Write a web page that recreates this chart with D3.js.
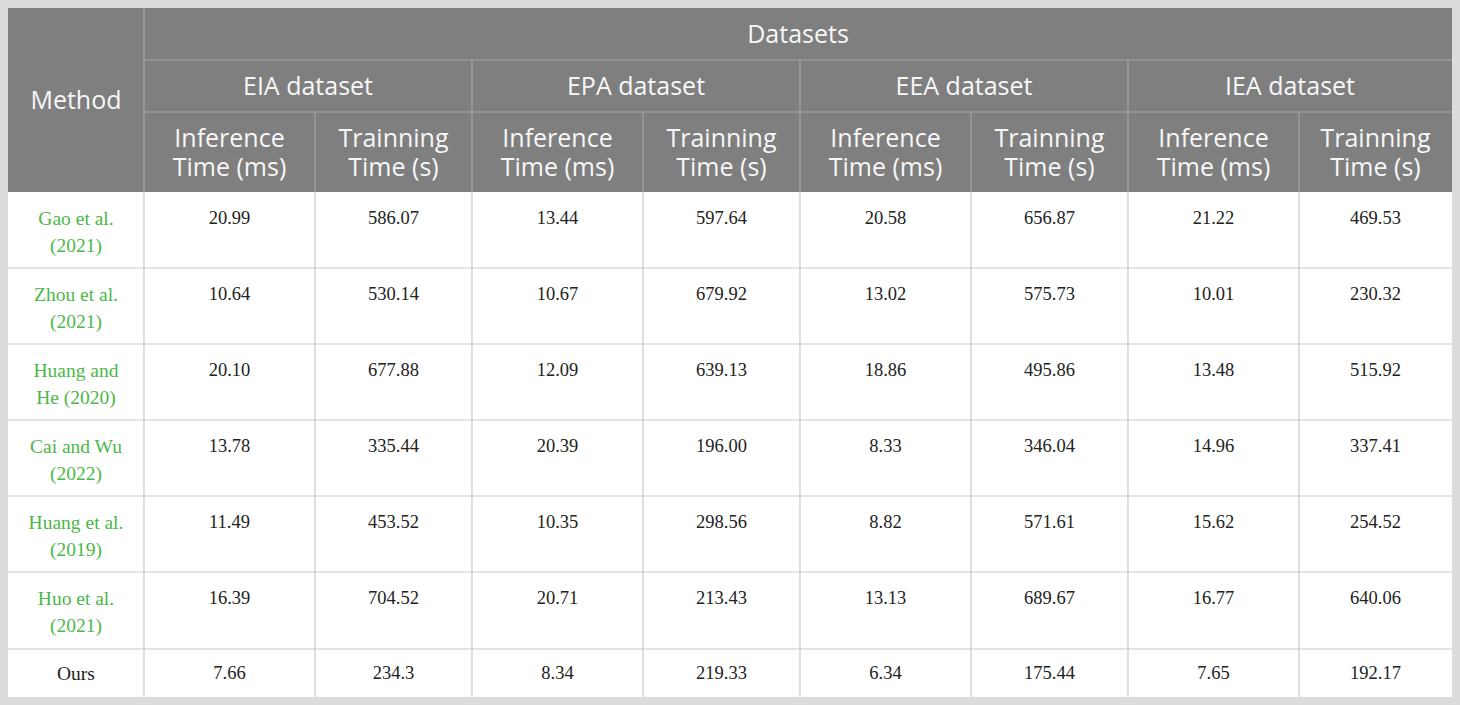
<!DOCTYPE html>
<html>
<head>
<meta charset="utf-8">
<script src="https://cdn.jsdelivr.net/npm/d3@7"></script>
<style>
  body { margin: 0; background: #dcdcdc; }
  svg { display: block; }
</style>
</head>
<body>
<div id="chart"></div>
<script>
// table content
const groupTitle = "Datasets";
const datasets = ["EIA dataset", "EPA dataset", "EEA dataset", "IEA dataset"];
const subHeaders = [["Inference", "Time (ms)"], ["Trainning", "Time (s)"]];
const methods = [
  ["Gao et al.", "(2021)"],
  ["Zhou et al.", "(2021)"],
  ["Huang and", "He (2020)"],
  ["Cai and Wu", "(2022)"],
  ["Huang et al.", "(2019)"],
  ["Huo et al.", "(2021)"],
  ["Ours"]
];
const inferenceTimes = [
  ["20.99", "13.44", "20.58", "21.22"],
  ["10.64", "10.67", "13.02", "10.01"],
  ["20.10", "12.09", "18.86", "13.48"],
  ["13.78", "20.39", "8.33", "14.96"],
  ["11.49", "10.35", "8.82", "15.62"],
  ["16.39", "20.71", "13.13", "16.77"],
  ["7.66", "8.34", "6.34", "7.65"]
];
const trainingTimes = [
  ["586.07", "597.64", "656.87", "469.53"],
  ["530.14", "679.92", "575.73", "230.32"],
  ["677.88", "639.13", "495.86", "515.92"],
  ["335.44", "196.00", "346.04", "337.41"],
  ["453.52", "298.56", "571.61", "254.52"],
  ["704.52", "213.43", "689.67", "640.06"],
  ["234.3", "219.33", "175.44", "192.17"]
];

document.addEventListener("DOMContentLoaded", () => {
  const width = 1460;
  const height = 705;
  const left = 8, top = 8;

  // column widths: method, then (inference, training) per dataset
  const colWidths = [136, 171, 157, 171, 157, 171, 157, 171, 153];
  const headRows = [52, 52, 80];
  const bodyRows = [76, 76, 76, 76, 76, 77, 48];

  const xEdges = d3.cumsum([left, ...colWidths]);
  const yHead = d3.cumsum([top, ...headRows]);
  const yBody = d3.cumsum([yHead[3], ...bodyRows]);
  const tableRight = xEdges[xEdges.length - 1];
  const tableBottom = yBody[yBody.length - 1];

  const headFill = "#7f7f7f";
  const headLine = "#a3a3a3";
  const bodyLine = "#c9c9c9";
  const green = "#4cb848";
  const sans = "'Open Sans', 'Noto Sans', sans-serif";
  const serif = "'Liberation Serif', 'DejaVu Serif', serif";

  const svg = d3.select("#chart").append("svg")
    .attr("width", width)
    .attr("height", height);

  // table background
  svg.append("rect")
    .attr("x", left).attr("y", top)
    .attr("width", tableRight - left).attr("height", tableBottom - top)
    .attr("fill", "#fff");
  svg.append("rect")
    .attr("x", left).attr("y", top)
    .attr("width", tableRight - left).attr("height", yHead[3] - top)
    .attr("fill", headFill);

  const lines = svg.append("g");
  function line(x1, y1, x2, y2, color) {
    lines.append("line")
      .attr("x1", x1).attr("y1", y1).attr("x2", x2).attr("y2", y2)
      .attr("stroke", color).attr("stroke-width", 1.2);
  }

  // header grid
  line(xEdges[1], top, xEdges[1], yHead[3], headLine);
  line(xEdges[1], yHead[1], tableRight, yHead[1], headLine);
  line(xEdges[1], yHead[2], tableRight, yHead[2], headLine);
  datasets.forEach((d, i) => {
    if (i > 0) line(xEdges[1 + i * 2], yHead[1], xEdges[1 + i * 2], yHead[3], headLine);
    line(xEdges[2 + i * 2], yHead[2], xEdges[2 + i * 2], yHead[3], headLine);
  });

  // body grid
  bodyRows.forEach((h, r) => {
    if (r > 0) line(left, yBody[r], tableRight, yBody[r], bodyLine);
  });
  xEdges.slice(1, -1).forEach(x => line(x, yBody[0], x, tableBottom, bodyLine));

  // multi-line text as one element with tspans
  function multiText(g, x, y, parts, step) {
    const t = g.append("text").attr("x", x).attr("y", y);
    parts.forEach((p, k) => {
      t.append("tspan")
        .attr("x", x)
        .attr("y", y + k * step)
        .attr("dy", "0.35em")
        .text(p);
    });
    return t;
  }

  const head = svg.append("g")
    .attr("fill", "#f7f7f7")
    .attr("font-family", sans)
    .attr("font-size", 25)
    .attr("text-anchor", "middle");

  multiText(head, (xEdges[0] + xEdges[1]) / 2, (top + yHead[3]) / 2, ["Method"], 0);
  multiText(head, (xEdges[1] + tableRight) / 2, (yHead[0] + yHead[1]) / 2, [groupTitle], 0);

  datasets.forEach((d, i) => {
    multiText(head, (xEdges[1 + i * 2] + xEdges[3 + i * 2]) / 2, (yHead[1] + yHead[2]) / 2, [d], 0);
    subHeaders.forEach((lbl, j) => {
      const cx = (xEdges[1 + i * 2 + j] + xEdges[2 + i * 2 + j]) / 2;
      multiText(head, cx, yHead[2] + 26, lbl, 29);
    });
  });

  const body = svg.append("g")
    .attr("font-family", serif)
    .attr("font-size", 18.5)
    .attr("text-anchor", "middle");

  methods.forEach((m, r) => {
    const y0 = yBody[r] + (bodyRows[r] < 60 ? bodyRows[r] / 2 : 26);
    multiText(body, (xEdges[0] + xEdges[1]) / 2, y0, m, 27)
      .attr("font-size", 19.5)
      .attr("fill", r < methods.length - 1 ? green : "#222");
    datasets.forEach((d, i) => {
      [inferenceTimes[r][i], trainingTimes[r][i]].forEach((v, j) => {
        multiText(body, (xEdges[1 + i * 2 + j] + xEdges[2 + i * 2 + j]) / 2, y0, [v], 0)
          .attr("fill", "#222");
      });
    });
  });
});
</script>
</body>
</html>
